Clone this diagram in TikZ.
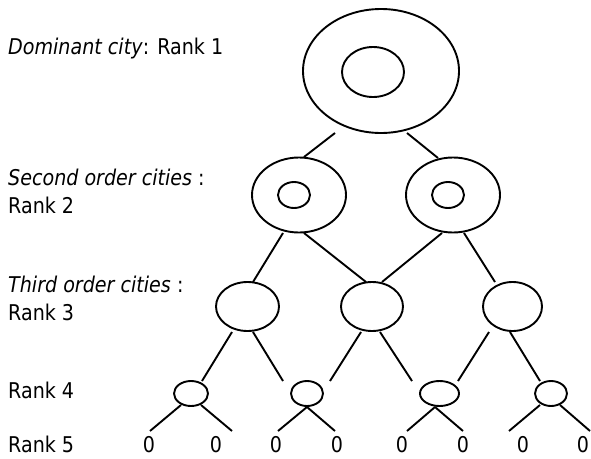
\documentclass[tikz,border=0pt]{standalone}
\usepackage{fontspec}
\setmainfont{DejaVu Sans}[FakeStretch=0.88]
\usetikzlibrary{shapes.geometric,calc}
\begin{document}
\begin{tikzpicture}[x=1pt,y=-1pt,
  city/.style={draw, ellipse, inner sep=0pt, line width=1.9pt},
  lbl/.style={anchor=base west, inner sep=0pt, font=\fontsize{21.7}{26}\selectfont},
  zero/.style={anchor=base, inner sep=0pt, font=\fontsize{21.7}{26}\selectfont},
  link/.style={line width=1.9pt}]
\useasboundingbox (0,0) rectangle (591,458);

% labels
\node[lbl] (t1) at (8,54) {\textit{Dominant city}: Rank 1};
\node[lbl] (t2) at (8,185) {\textit{Second order cities} :};
\node[lbl] (t2r) at (8,213) {Rank 2};
\node[lbl] (t3) at (8,292.5) {\textit{Third order cities} :};
\node[lbl] (t3r) at (8,320) {Rank 3};
\node[lbl] (t4) at (8,398) {Rank 4};
\node[lbl] (t5) at (8,452) {Rank 5};

% cities
\node[city, minimum width=156pt, minimum height=124pt] (r1) at (381,71) {};
\node[city, minimum width=62pt, minimum height=50pt] (r1i) at (373,72) {};
\node[city, minimum width=94pt, minimum height=75pt] (r2a) at (299,195) {};
\node[city, minimum width=32pt, minimum height=26pt] (r2ai) at (294,195) {};
\node[city, minimum width=94pt, minimum height=75pt] (r2b) at (453,195) {};
\node[city, minimum width=32pt, minimum height=26pt] (r2bi) at (448,195) {};
\node[city, minimum width=63pt, minimum height=49pt] (r3a) at (247.5,306.5) {};
\node[city, minimum width=62pt, minimum height=49pt] (r3b) at (372,306.5) {};
\node[city, minimum width=59pt, minimum height=49pt] (r3c) at (512.5,306.5) {};
\node[city, minimum width=34pt, minimum height=25pt] (r4a) at (191,393.5) {};
\node[city, minimum width=32pt, minimum height=25pt] (r4b) at (307,393.5) {};
\node[city, minimum width=39pt, minimum height=25pt] (r4c) at (439.5,393.5) {};
\node[city, minimum width=32pt, minimum height=25pt] (r4d) at (551,393.5) {};

% rank 5 zeros
\node[zero] (z1) at (149,452) {0};
\node[zero] (z2) at (216,452) {0};
\node[zero] (z3) at (276,452) {0};
\node[zero] (z4) at (337,452) {0};
\node[zero] (z5) at (402,452) {0};
\node[zero] (z6) at (463,452) {0};
\node[zero] (z7) at (523,452) {0};
\node[zero] (z8) at (583,452) {0};

% connectors rank 1 -> rank 2
\draw[link] ($(r1)+(-46,62)$) -- ($(r2a)+(5,-38)$);
\draw[link] ($(r1)+(26,62)$) -- ($(r2b)+(-15,-37)$);
% rank 2 -> rank 3
\draw[link] ($(r2a)+(-16,38)$) -- ($(r3a)+(5.5,-24.5)$);
\draw[link] ($(r2a)+(5,38)$) -- ($(r3b)+(-6,-24.5)$);
\draw[link] ($(r2b)+(-11,38)$) -- ($(r3b)+(10,-24.5)$);
\draw[link] ($(r2b)+(11,38)$) -- ($(r3c)+(-17.5,-24.5)$);
% rank 3 -> rank 4
\draw[link] ($(r3a)+(-15.5,25.5)$) -- ($(r4a)+(11,-12.5)$);
\draw[link] ($(r3a)+(5.5,25.5)$) -- ($(r4b)+(-24,-12.5)$);
\draw[link] ($(r3b)+(-11,25.5)$) -- ($(r4b)+(23,-12.5)$);
\draw[link] ($(r3b)+(8,25.5)$) -- ($(r4c)+(-27.5,-12.5)$);
\draw[link] ($(r3c)+(-23.5,25.5)$) -- ($(r4c)+(18.5,-12.5)$);
\draw[link] ($(r3c)+(-2.5,25.5)$) -- ($(r4d)+(-11,-12.5)$);
% rank 4 -> rank 5
\draw[link] ($(r4a)+(-10,11.5)$) -- ($(z1.base)+(1,-21)$);
\draw[link] ($(r4a)+(10,11.5)$) -- ($(z2.base)+(16,-21)$);
\draw[link] ($(r4b)+(0,13.5)$) -- ($(z3.base)+(2,-21)$);
\draw[link] ($(r4b)+(0,13.5)$) -- ($(z4.base)+(-2,-21)$);
\draw[link] ($(r4c)+(-4.5,13.5)$) -- ($(z5.base)+(5,-21)$);
\draw[link] ($(r4c)+(-4.5,13.5)$) -- ($(z6.base)+(0,-21)$);
\draw[link] ($(r4d)+(-11,11.5)$) -- ($(z7.base)+(-14,-21)$);
\draw[link] ($(r4d)+(9,11.5)$) -- ($(z8.base)+(7,-21)$);
\end{tikzpicture}
\end{document}
